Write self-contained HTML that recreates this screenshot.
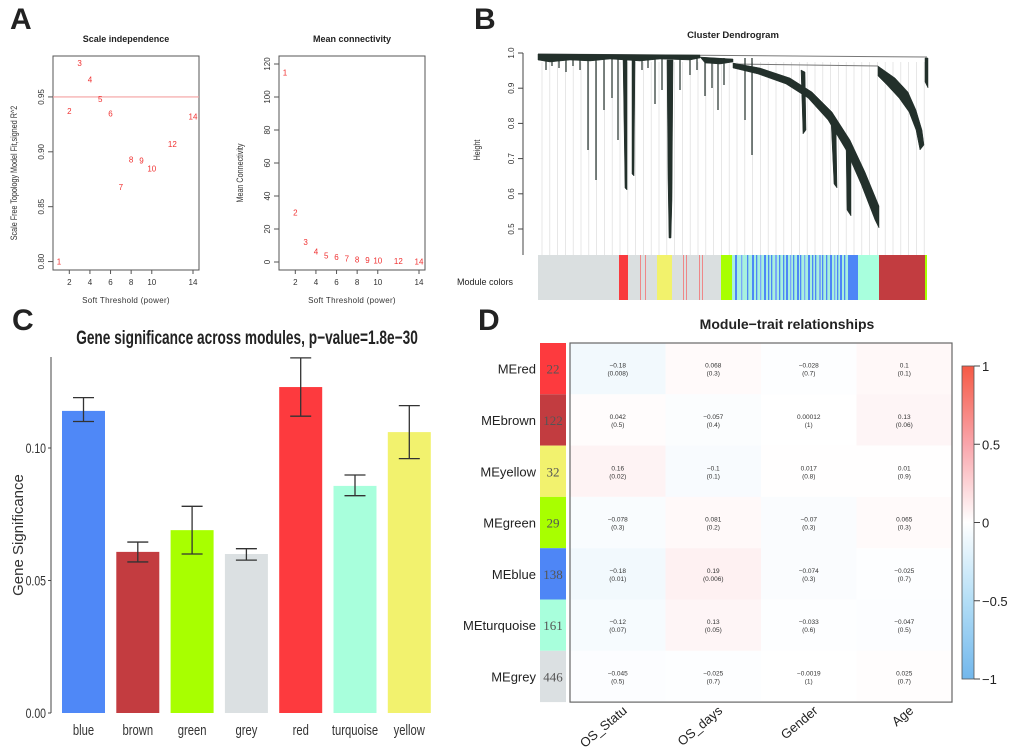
<!DOCTYPE html>
<html><head><meta charset="utf-8"><style>
body{margin:0;background:#fff;}
svg{display:block;font-family:"Liberation Sans",sans-serif;}
</style></head><body>
<svg id="fig" width="1020" height="749" viewBox="0 0 1020 749">
<g font-weight="bold" fill="#222" font-size="30">
<text x="10" y="29">A</text>
<text x="474" y="29">B</text>
<text x="12" y="330">C</text>
<text x="478" y="330">D</text>
</g>
<g id="pa"></g>
<g id="pb">
<text x="733" y="38" text-anchor="middle" font-size="9.5" font-weight="bold" fill="#222">Cluster Dendrogram</text>
<line x1="523" y1="53" x2="523" y2="255" stroke="#444"/>
<g id="dendroTicks"></g>
<text transform="translate(480,150) rotate(-90) scale(0.8,1)" font-size="9" text-anchor="middle" fill="#333">Height</text>
<text x="457" y="285" font-size="9" fill="#222">Module colors</text>
<g id="dendroGrid"></g>
<g fill="#23302b" stroke="#23302b" stroke-width="0.5">
<line x1="538" y1="54" x2="927" y2="57" stroke="#777" stroke-width="1"/>
<line x1="733" y1="64" x2="878" y2="66" stroke="#777" stroke-width="1"/>
<path d="M538 54 L700 55 L700 58 L690 60 L660 59 L640 61 L610 59 L590 61 L570 60 L550 62 L538 60 Z"/>
<path d="M700 57 L733 59 L733 62 L720 64 L705 63 Z"/>
<path d="M733 63 L760 68 L790 78 L812 92 L832 112 L850 140 L865 172 L879 206 L879 228 L875 220 L861 184 L846 150 L828 120 L808 98 L786 84 L758 74 L733 68 Z"/>
<path d="M878 66 L895 78 L908 92 L916 110 L922 130 L924 145 L920 150 L916 130 L909 112 L899 98 L886 84 L878 76 Z"/>
<path d="M667 60 L673 60 L672 200 L671 238 L669 238 L668 180 Z"/>
<path d="M623 58 L627 60 L627 190 L625 188 Z"/>
<path d="M632 60 L635 60 L634 176 L632 174 Z"/>
<path d="M801 70 L805 72 L806 130 L803 134 Z"/>
<path d="M925 58 L928 58 L928 88 L925 82 Z"/>
<path d="M846 140 L851 145 L851 216 L847 210 Z"/>
<path d="M831 120 L836 124 L837 188 L834 184 Z"/>
</g>
<g id="dendroSpikes" stroke="#23302b" stroke-width="1.2"></g>
<g id="modcolors"></g>
</g>
<g id="pc"></g>
<g id="pd"></g>
</svg>
<script>
const NS="http://www.w3.org/2000/svg";
function mk(parent,tag,attrs,text){const e=document.createElementNS(NS,tag);for(const k in attrs)e.setAttribute(k,attrs[k]);if(text!==undefined)e.textContent=text;parent.appendChild(e);return e;}

// ---------- Panel A data ----------
const powers=[1,2,3,4,5,6,7,8,9,10,12,14];
const fitR2=[0.800,0.937,0.981,0.966,0.948,0.935,0.868,0.893,0.892,0.885,0.907,0.932];
const meanK=[115,30,12,6.5,4,3,2.2,1.5,1.2,1,0.6,0.4];
const fitTicks=[0.80,0.85,0.90,0.95];
const kTicks=[0,20,40,60,80,100,120];
const powerTicks=[2,4,6,8,10,14];
const heightTicks=[0.5,0.6,0.7,0.8,0.9,1.0];

const pa=document.getElementById('pa');
function scatter(x0,x1,y0,y1,xs,ys,ymin,ymax,yticks,title,ytitle,fmt,cutoff){
  const sx=v=>x0+6+(v-1)*((x1-x0-12)/13);
  const sy=v=>y1-8-(v-ymin)*((y1-y0-16)/(ymax-ymin));
  const g=mk(pa,'g',{});
  
  
  const box=mk(g,'rect',{x:x0,y:y0,width:x1-x0,height:y1-y0,fill:'none',stroke:'#555','stroke-width':1});
  
  const t=mk(g,'text',{x:(x0+x1)/2,y:42,'text-anchor':'middle','font-size':9,'font-weight':'bold',fill:'#222'},title);
  
  yticks.forEach(v=>{const y=sy(v);mk(g,'line',{x1:x0-5,y1:y,x2:x0,y2:y,stroke:'#555'});
    const l=mk(g,'text',{transform:`translate(${x0-9},${y}) rotate(-90)`,'text-anchor':'middle','font-size':8,fill:'#333'},fmt(v));
    });
  powerTicks.forEach(v=>{const x=sx(v);mk(g,'line',{x1:x,y1:y1,x2:x,y2:y1+4,stroke:'#555'});
    const l=mk(g,'text',{x:x,y:y1+15,'text-anchor':'middle','font-size':8,fill:'#333'},v);
    });
  const xt=mk(g,'text',{x:(x0+x1)/2,y:303,'text-anchor':'middle','font-size':8,fill:'#333','letter-spacing':'0.3'},'Soft Threshold (power)');
  
  const yt=mk(g,'text',{transform:`translate(${x0-36},${(y0+y1)/2+10}) rotate(-90) scale(0.8,1)`,'text-anchor':'middle','font-size':9,fill:'#333'},ytitle);
  
  if(cutoff!==undefined){const c=mk(g,'line',{x1:x0,x2:x1,y1:sy(cutoff),y2:sy(cutoff),stroke:'#f4a0a0','stroke-width':1.2});
    }
  xs.forEach((p,i)=>{const l=mk(g,'text',{x:sx(p),y:sy(ys[i])+3,'text-anchor':'middle','font-size':8,fill:'#f03030'},p);
    });
}
scatter(53,199,56,270,powers,fitR2,0.7996,0.98,fitTicks,'Scale independence','Scale Free Topology Model Fit,signed R^2',v=>v.toFixed(2),0.95);
scatter(279,425,56,270,powers,meanK,0,120,kTicks,'Mean connectivity','Mean Connectivity',v=>v,undefined);

// ---------- Panel B ----------
const dt0=document.getElementById('dendroTicks');
heightTicks.forEach(v=>{const y=53+(1-v)*352;
  mk(dt0,'line',{x1:518,x2:523,y1:y,y2:y,stroke:'#444'});
  const l=mk(dt0,'text',{transform:`translate(514,${y}) rotate(-90)`,'text-anchor':'middle','font-size':8,fill:'#333'},v.toFixed(1));
  });
const grid=document.getElementById('dendroGrid');
for(let x=542;x<927;x+=7.8){mk(grid,'line',{x1:x,y1:62,x2:x,y2:255,stroke:'#ddd','stroke-width':0.7});}
const spikes=document.getElementById('dendroSpikes');
const spikeX=[546,552,559,566,573,580,588,596,604,612,618,642,648,655,662,680,690,697,705,712,718,724,745,752];
const spikeY=[70,66,68,72,66,70,150,180,110,98,140,70,68,104,90,90,75,70,96,88,110,85,120,155];
spikeX.forEach((x,i)=>{mk(spikes,'line',{x1:x,y1:58,x2:x,y2:spikeY[i]});});
const mc=document.getElementById('modcolors');
const segs=[[538,619,'#dadfe0'],[619,628,'#f93a3e'],[628,657,'#dadfe0'],[657,672,'#f2f26c'],[672,721,'#dadfe0'],[721,732,'#a8ff00'],[732,848,'#a8f0de'],[848,858,'#4e86f6'],[858,879,'#a8ffdd'],[879,925,'#c23c40'],[925,927,'#a8ff00']];
segs.forEach(s=>{mk(mc,'rect',{x:s[0],y:255,width:s[1]-s[0],height:45,fill:s[2]});});
const stripes=[735,741,747,752,756,760,764,768,771,775,779,783,786,790,793,797,800,804,808,812,815,819,822,826,830,834,837,840,844];
stripes.forEach((x,i)=>{mk(mc,'rect',{x:x,y:255,width:i%3==0?2:1.3,height:45,fill:i%4==1?'#7aa8f8':'#4e86f6'});});
[640,645,683,686,699,702].forEach(x=>mk(mc,'rect',{x:x,y:255,width:1,height:45,fill:'#e88'}));

// ---------- Panel C data ----------
const modules=['blue','brown','green','grey','red','turquoise','yellow'];
const gsMean=[0.114,0.0608,0.069,0.060,0.123,0.0857,0.106];
const gsLow=[0.110,0.057,0.060,0.0577,0.112,0.082,0.096];
const gsHigh=[0.119,0.0645,0.078,0.062,0.134,0.0898,0.116];
const barColors=['#4f88f7','#c33c40','#a8ff00','#dbe0e2','#fd3a3e','#a8ffdc','#f2f26e'];
const gsTicks=[0.00,0.05,0.10];
const pc=document.getElementById('pc');
const cy=v=>713-v*2650, cx=i=>62+i*54.3;
mk(pc,'line',{x1:51,y1:357,x2:51,y2:713,stroke:'#444','stroke-width':1});
gsTicks.forEach(v=>{mk(pc,'line',{x1:48,x2:51,y1:cy(v),y2:cy(v),stroke:'#444'});
  const t=mk(pc,'text',{transform:`translate(46,${cy(v)+5}) scale(0.75,1)`,'text-anchor':'end','font-size':14,fill:'#333'},v.toFixed(2));
  });
const ct=mk(pc,'text',{transform:'translate(247,344) scale(0.72,1)','text-anchor':'middle','font-size':19,'font-weight':'bold',fill:'#222'},'Gene significance across modules, p\u2212value=1.8e\u221230');

const cyt=mk(pc,'text',{transform:'translate(23,535) rotate(-90)','text-anchor':'middle','font-size':15,fill:'#333'},'Gene Significance');

modules.forEach((m,i)=>{
  const b=mk(pc,'rect',{x:cx(i),y:cy(gsMean[i]),width:43,height:713-cy(gsMean[i]),fill:barColors[i]});
  
  const mx=cx(i)+21.5;
  const e=mk(pc,'path',{d:`M${mx-10.5} ${cy(gsHigh[i])}H${mx+10.5}M${mx} ${cy(gsHigh[i])}V${cy(gsLow[i])}M${mx-10.5} ${cy(gsLow[i])}H${mx+10.5}`,stroke:'#333','stroke-width':1.3,fill:'none'});
  
  const l=mk(pc,'text',{transform:`translate(${mx},735) scale(0.75,1)`,'text-anchor':'middle','font-size':15,fill:'#333'},m);
  
});

// ---------- Panel D data ----------
const meNames=['MEred','MEbrown','MEyellow','MEgreen','MEblue','MEturquoise','MEgrey'];
const meSizes=[22,122,32,29,138,161,446];
const meColors=['#fd3a3e','#c23c40','#f2f26e','#a8ff00','#4e86f6','#a8ffdc','#dbe0e2'];
const traits=['OS_Statu','OS_days','Gender','Age'];
const corVals=[[-0.18,0.068,-0.028,0.1],[0.042,-0.057,0.00012,0.13],[0.16,-0.1,0.017,0.01],[-0.078,0.081,-0.07,0.065],[-0.18,0.19,-0.074,-0.025],[-0.12,0.13,-0.033,-0.047],[-0.045,-0.025,-0.0019,0.025]];
const pVals=[['0.008','0.3','0.7','0.1'],['0.5','0.4','1','0.06'],['0.02','0.1','0.8','0.9'],['0.3','0.2','0.3','0.3'],['0.01','0.006','0.3','0.7'],['0.07','0.05','0.6','0.5'],['0.5','0.7','1','0.7']];
const cbTicks=[1,0.5,0,-0.5,-1];
const pd=document.getElementById('pd');
function colr(v){const mix=(a,t)=>Math.round(255+(a-255)*t);
  if(v>=0){const t=Math.min(1,v*0.45);return `rgb(${mix(244,t)},${mix(90,t)},${mix(100,t)})`;}
  const t=Math.min(1,-v*0.55);return `rgb(${mix(120,t)},${mix(190,t)},${mix(238,t)})`;}
const hx0=570,hy0=343,cw=95.5,rh=51.3;
const dt=mk(pd,'text',{x:787,y:329,'text-anchor':'middle','font-size':14,'font-weight':'bold',fill:'#222'},'Module\u2212trait relationships');

meNames.forEach((n,r)=>{
  const y=hy0+r*rh;
  const l=mk(pd,'text',{x:536,y:y+rh/2+5,'text-anchor':'end','font-size':13,fill:'#222'},n);
  
  const tile=mk(pd,'rect',{x:540,y:y,width:26,height:rh,fill:meColors[r]});
  
  const s=mk(pd,'text',{x:553,y:y+rh/2+5,'text-anchor':'middle','font-size':13,'font-family':'Liberation Serif,serif',fill:'#555'},meSizes[r]);
  
  traits.forEach((t,c)=>{
    const x=hx0+c*cw;
    const cell=mk(pd,'rect',{x:x,y:y,width:cw,height:rh,fill:colr(corVals[r][c])});
    
    const txt=String(corVals[r][c]).replace('-','\u2212');
    const a=mk(pd,'text',{x:x+cw/2,y:y+rh/2-1,'text-anchor':'middle','font-size':6.5,fill:'#333'},txt);
    
    const b=mk(pd,'text',{x:x+cw/2,y:y+rh/2+7,'text-anchor':'middle','font-size':6.5,fill:'#333'},'('+pVals[r][c]+')');
    
  });
});
const fr=mk(pd,'rect',{x:hx0,y:hy0,width:cw*4,height:rh*7,fill:'none',stroke:'#666','stroke-width':1.2});

traits.forEach((t,c)=>{const x=hx0+c*cw+cw/2;
  const l=mk(pd,'text',{transform:`translate(${x+10},${712}) rotate(-40)`,'text-anchor':'end','font-size':13,fill:'#222'},t);
  });
const defs=mk(document.getElementById('fig'),'defs',{});
const lg=mk(defs,'linearGradient',{id:'cbg',x1:0,y1:0,x2:0,y2:1});
[['0','#f55a45'],['0.25','#f9a5ab'],['0.5','#ffffff'],['0.75','#b3def6'],['1','#72b7ec']].forEach(s=>mk(lg,'stop',{offset:s[0],'stop-color':s[1]}));
const cb=mk(pd,'rect',{x:962,y:366,width:12,height:313,fill:'url(#cbg)',stroke:'#555','stroke-width':0.8});

cbTicks.forEach(v=>{const y=366+(1-v)/2*313;
  mk(pd,'line',{x1:974,x2:980,y1:y,y2:y,stroke:'#444'});
  const l=mk(pd,'text',{x:982,y:y+5,'font-size':13,fill:'#222'},String(v).replace('-','\u2212'));
  });
</script>
</body></html>
